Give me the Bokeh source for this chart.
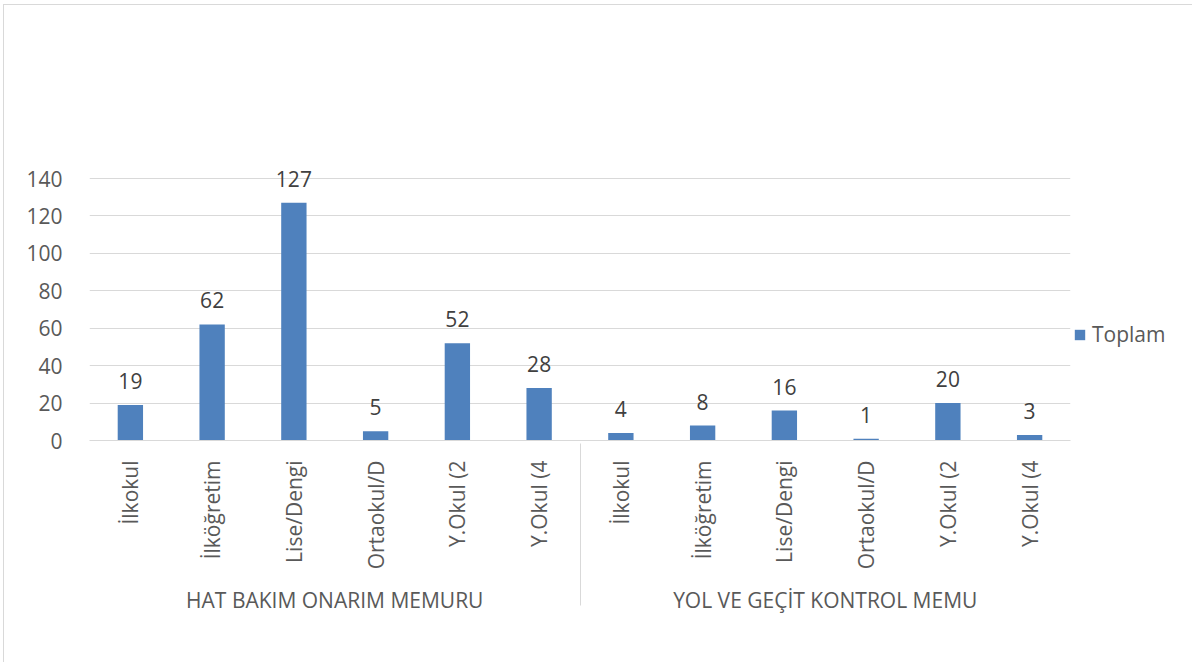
import math
from bokeh.plotting import figure
from bokeh.models import FactorRange, ColumnDataSource, Legend, LegendItem, Range1d
from bokeh.core.properties import value
from bokeh.embed import file_html
from bokeh.resources import INLINE

groups = ["HAT BAKIM ONARIM MEMURU", "YOL VE GEÇİT KONTROL MEMU"]
levels = ["İlkokul", "İlköğretim", "Lise/Dengi", "Ortaokul/D", "Y.Okul (2", "Y.Okul (4"]
hat_values = [19, 62, 127, 5, 52, 28]
yol_values = [4, 8, 16, 1, 20, 3]
series_name = "Toplam"
y_ticks = [0, 20, 40, 60, 80, 100, 120, 140]

factors = [(g, l) for g in groups for l in levels]
vals = hat_values + yol_values
src = ColumnDataSource(dict(x=factors, top=vals, lbl=[str(v) for v in vals]))

FONT = "Open Sans"
BLUE = "#4F81BD"
GRID = "#D9D9D9"
TXT = "#595959"

# chart box offset inside the page, and plot-area layout (page pixels)
OX, OY = 3, 4
W, H = 1192 - OX - 1, 662 - OY - 1
FL, FW = 89 - OX - 1, 981
AXIS_Y = 440 - OY - 1
PX_PER_UNIT = 262 / 140
FH = 290
Y_TOP = FH / PX_PER_UNIT
FT = AXIS_Y - FH

p = figure(
    x_range=FactorRange(*factors, factor_padding=0, group_padding=0, range_padding=0),
    y_range=Range1d(0, Y_TOP),
    frame_width=FW, frame_height=FH,
    min_border_left=FL, min_border_right=W - FL - FW, min_border_top=FT,
    min_border_bottom=H - FT - FH,
    output_backend="svg", toolbar_location=None,
)
p.styles = {"margin-left": f"{OX}px", "margin-top": f"{OY}px",
            "border-left": "1px solid #D9D9D9", "border-top": "1px solid #D9D9D9",
            "border-right": "none", "border-bottom": "none"}

r = p.vbar(x="x", top="top", width=0.31, source=src, fill_color=BLUE, line_color=None)
p.text(x="x", y="top", text="lbl", source=src, text_align="center", text_baseline="bottom",
       y_offset=-16, text_font=value(FONT), text_font_size="21px", text_color="#404040")

p.outline_line_color = None
p.xgrid.grid_line_color = None
p.ygrid.grid_line_color = GRID
p.ygrid.grid_line_width = 1
p.yaxis.ticker = y_ticks
p.yaxis.axis_line_color = None
p.yaxis.major_tick_line_color = None
p.yaxis.minor_tick_line_color = None
p.yaxis.major_label_standoff = 21
p.yaxis.major_label_text_font = FONT
p.yaxis.major_label_text_font_size = "21px"
p.yaxis.major_label_text_color = TXT

xa = p.xaxis[0]
xa.axis_line_color = GRID
xa.major_tick_line_color = None
xa.minor_tick_line_color = None
xa.major_label_orientation = math.pi / 2
xa.major_label_standoff = 14
xa.major_label_text_font = FONT
xa.major_label_text_font_size = "21px"
xa.major_label_text_color = TXT
xa.group_text_font = FONT
xa.group_text_font_size = "21px"
xa.group_text_font_style = "normal"
xa.group_text_color = TXT
xa.separator_line_color = GRID
xa.separator_line_width = 1

legend = Legend(items=[LegendItem(label=series_name, renderers=[r])],
                label_text_font=FONT, label_text_font_size="21px", label_text_color=TXT,
                glyph_width=13, glyph_height=13, border_line_color=None,
                background_fill_alpha=0, location=(3, 92), label_standoff=6, padding=0, margin=5)
p.add_layout(legend, "right")

open("out.html", "w").write(file_html(p, INLINE))
